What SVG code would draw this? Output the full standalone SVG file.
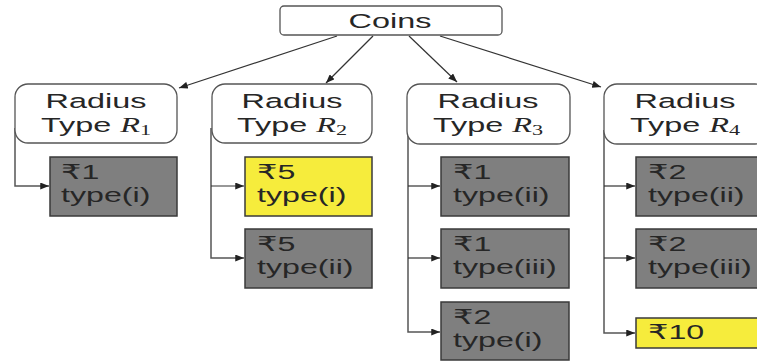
<svg xmlns="http://www.w3.org/2000/svg" width="757" height="362" viewBox="0 0 757 362">
<style>
  .t { font-family: "Liberation Sans", "DejaVu Sans", "Noto Sans", sans-serif; font-size: 20.5px; fill: #262626; }
  .m { font-family: "Liberation Serif", "DejaVu Serif", serif; font-style: italic; }
  .sub { font-family: "Liberation Serif", "DejaVu Serif", serif; font-size: 14px; }
  .root { fill: #ffffff; stroke: #555555; stroke-width: 1.3; }
  .rad { fill: #ffffff; stroke: #555555; stroke-width: 1.3; }
  .gray { fill: #7f7f7f; stroke: #3a3a3a; stroke-width: 1.5; }
  .yel { fill: #f6ec3c; stroke: #3a3a3a; stroke-width: 1.5; }
  .c { fill: none; stroke: #333333; stroke-width: 1.2; }
  .cv { fill: none; stroke: #555555; stroke-width: 1.5; }
</style>
<defs>
  <marker id="ah" viewBox="0 0 10 8" refX="10" refY="4" markerWidth="9" markerHeight="7" markerUnits="userSpaceOnUse" orient="auto">
    <path d="M0,0 L10,4 L0,8 Z" fill="#222222"/>
  </marker>
</defs>

<g id="connectors">
  <line class="c" x1="337" y1="36" x2="179" y2="88" marker-end="url(#ah)"/>
  <line class="c" x1="373" y1="36" x2="326" y2="83" marker-end="url(#ah)"/>
  <line class="c" x1="409" y1="36" x2="457" y2="82" marker-end="url(#ah)"/>
  <line class="c" x1="440" y1="36" x2="601" y2="87" marker-end="url(#ah)"/>

  <polyline class="cv" points="15,128 15,186 49,186" marker-end="url(#ah)"/>

  <polyline class="cv" points="211,128 211,258 244,258" marker-end="url(#ah)"/>
  <line class="c" x1="211" y1="186" x2="244" y2="186" marker-end="url(#ah)"/>

  <polyline class="cv" points="408,130 408,332 440,332" marker-end="url(#ah)"/>
  <line class="c" x1="408" y1="186" x2="440" y2="186" marker-end="url(#ah)"/>
  <line class="c" x1="408" y1="258" x2="440" y2="258" marker-end="url(#ah)"/>

  <polyline class="cv" points="604,130 604,333 635,333" marker-end="url(#ah)"/>
  <line class="c" x1="604" y1="186" x2="635" y2="186" marker-end="url(#ah)"/>
  <line class="c" x1="604" y1="258" x2="635" y2="258" marker-end="url(#ah)"/>
</g>

<g id="coins">
  <rect class="root" x="280" y="6" width="222" height="29" rx="4"/>
  <text class="t" text-anchor="middle" transform="translate(390,28) scale(1.58,1)">Coins</text>
</g>

<g id="r1">
  <rect class="rad" x="15" y="84" width="162" height="59" rx="13"/>
  <text class="t" text-anchor="middle" transform="translate(96,84) scale(1.58,1)"><tspan x="0" y="24">Radius</tspan><tspan x="0" y="48">Type <tspan class="m">R</tspan><tspan class="sub" dy="3">1</tspan></tspan></text>
</g>
<g id="r2">
  <rect class="rad" x="212" y="84" width="160" height="59" rx="13"/>
  <text class="t" text-anchor="middle" transform="translate(292,84) scale(1.58,1)"><tspan x="0" y="24">Radius</tspan><tspan x="0" y="48">Type <tspan class="m">R</tspan><tspan class="sub" dy="3">2</tspan></tspan></text>
</g>
<g id="r3">
  <rect class="rad" x="407" y="84" width="163" height="60" rx="13"/>
  <text class="t" text-anchor="middle" transform="translate(488,84) scale(1.58,1)"><tspan x="0" y="24">Radius</tspan><tspan x="0" y="48">Type <tspan class="m">R</tspan><tspan class="sub" dy="3">3</tspan></tspan></text>
</g>
<g id="r4">
  <rect class="rad" x="604" y="84" width="164" height="60" rx="13"/>
  <text class="t" text-anchor="middle" transform="translate(685,84) scale(1.58,1)"><tspan x="0" y="24">Radius</tspan><tspan x="0" y="48">Type <tspan class="m">R</tspan><tspan class="sub" dy="3">4</tspan></tspan></text>
</g>

<g id="r1-1">
  <rect class="gray" x="50" y="157" width="127" height="59"/>
  <text class="t" transform="translate(61,157) scale(1.57,1)"><tspan x="0" y="22">₹1</tspan><tspan x="0" y="45">type(i)</tspan></text>
</g>
<g id="r2-1">
  <rect class="yel" x="245" y="157" width="127" height="59"/>
  <text class="t" transform="translate(257,157) scale(1.57,1)"><tspan x="0" y="22">₹5</tspan><tspan x="0" y="45">type(i)</tspan></text>
</g>
<g id="r2-2">
  <rect class="gray" x="245" y="229" width="127" height="59"/>
  <text class="t" transform="translate(257,229) scale(1.57,1)"><tspan x="0" y="22">₹5</tspan><tspan x="0" y="45">type(ii)</tspan></text>
</g>
<g id="r3-1">
  <rect class="gray" x="441" y="157" width="128" height="59"/>
  <text class="t" transform="translate(453,157) scale(1.57,1)"><tspan x="0" y="22">₹1</tspan><tspan x="0" y="45">type(ii)</tspan></text>
</g>
<g id="r3-2">
  <rect class="gray" x="441" y="229" width="128" height="59"/>
  <text class="t" transform="translate(453,229) scale(1.57,1)"><tspan x="0" y="22">₹1</tspan><tspan x="0" y="45">type(iii)</tspan></text>
</g>
<g id="r3-3">
  <rect class="gray" x="441" y="302" width="128" height="58"/>
  <text class="t" transform="translate(453,302) scale(1.57,1)"><tspan x="0" y="22">₹2</tspan><tspan x="0" y="45">type(i)</tspan></text>
</g>
<g id="r4-1">
  <rect class="gray" x="636" y="157" width="130" height="59"/>
  <text class="t" transform="translate(648,157) scale(1.57,1)"><tspan x="0" y="22">₹2</tspan><tspan x="0" y="45">type(ii)</tspan></text>
</g>
<g id="r4-2">
  <rect class="gray" x="636" y="229" width="130" height="59"/>
  <text class="t" transform="translate(648,229) scale(1.57,1)"><tspan x="0" y="22">₹2</tspan><tspan x="0" y="45">type(iii)</tspan></text>
</g>
<g id="r4-3">
  <rect class="yel" x="636" y="318" width="130" height="30"/>
  <text class="t" transform="translate(648,339) scale(1.57,1)">₹10</text>
</g>
</svg>
